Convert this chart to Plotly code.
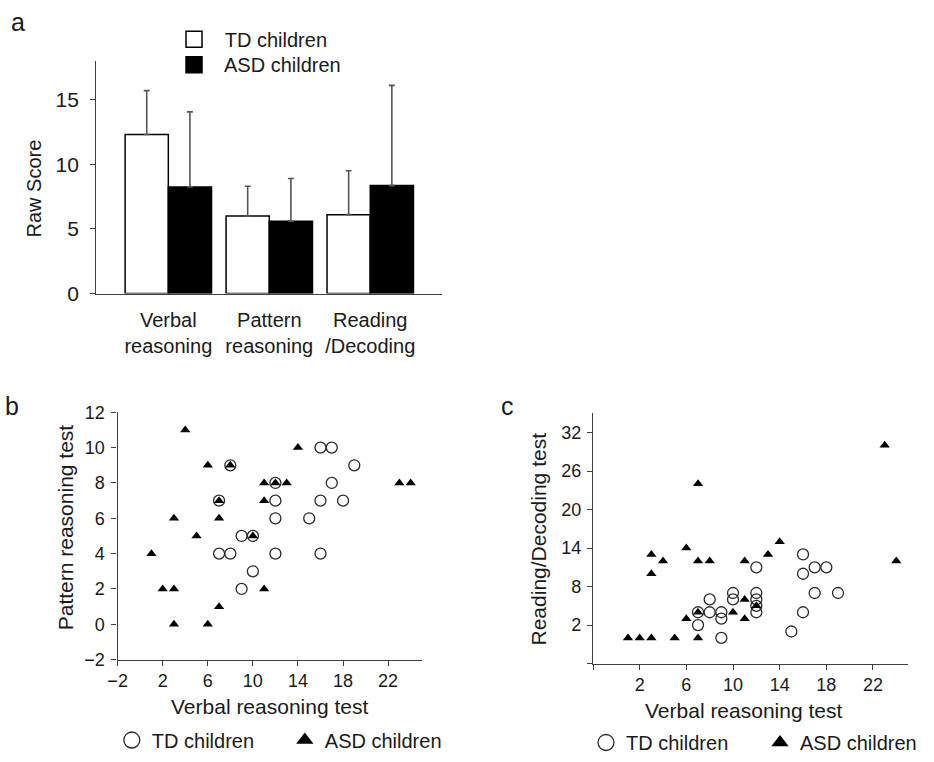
import plotly.graph_objects as go

W, H = 934, 762
FONT = "Liberation Sans, Arial, sans-serif"
INK = "#1a1a1a"
AXIS = "#404040"

# ---------------- Panel a data ----------------
categories = ["Verbal<br>reasoning", "Pattern<br>reasoning", "Reading<br>/Decoding"]
td_means = [12.3, 6.0, 6.1]
td_sd = [3.4, 2.3, 3.4]
asd_means = [8.25, 5.6, 8.35]
asd_sd = [5.8, 3.3, 7.75]
a_ticks = [0, 5, 10, 15]

# ---------------- Panel b data ----------------
b_td_x = [16, 17, 19, 8, 12, 17, 7, 12, 16, 18, 12, 15, 9, 10, 7, 8, 12, 16, 10, 9]
b_td_y = [10, 10, 9, 9, 8, 8, 7, 7, 7, 7, 6, 6, 5, 5, 4, 4, 4, 4, 3, 2]
b_asd_x = [4, 14, 6, 8, 11, 12, 13, 23, 24, 7, 11, 3, 7, 5, 10, 1, 2, 3, 11, 7, 3, 6]
b_asd_y = [11, 10, 9, 9, 8, 8, 8, 8, 8, 7, 7, 6, 6, 5, 5, 4, 2, 2, 2, 1, 0, 0]
b_xticks = [-2, 2, 6, 10, 14, 18, 22]
b_yticks = [-2, 0, 2, 4, 6, 8, 10, 12]

# ---------------- Panel c data ----------------
c_td_x = [12, 16, 16, 17, 18, 17, 19, 16, 15, 10, 10, 12, 12, 12, 12, 8, 7, 8, 9, 9, 7, 9]
c_td_y = [11, 13, 10, 11, 11, 7, 7, 4, 1, 7, 6, 7, 6, 5, 4, 6, 4, 4, 4, 3, 2, 0]
c_asd_x = [23, 7, 14, 6, 3, 13, 4, 7, 8, 11, 24, 3, 11, 12, 7, 10, 6, 11, 1, 2, 3, 5, 7]
c_asd_y = [30, 24, 15, 14, 13, 13, 12, 12, 12, 12, 12, 10, 6, 5, 4, 4, 3, 3, 0, 0, 0, 0, 0]
c_xticks = [-2, 2, 6, 10, 14, 18, 22]
c_xticktext = ["", "2", "6", "10", "14", "18", "22"]
c_yticks = [-4, 2, 8, 14, 20, 26, 32]
c_yticktext = ["", "2", "8", "14", "20", "26", "32"]


def px_x(p):
    return p / W


def px_y(p):
    return 1 - p / H


fig = go.Figure()

# ---- Panel a bars ----
fig.add_trace(go.Bar(
    x=categories, y=td_means, name="TD children", showlegend=False,
    marker=dict(color="white", line=dict(color="black", width=1.5)),
    error_y=dict(type="data", array=td_sd, arrayminus=[0] * 3, symmetric=False,
                 color="#555555", thickness=1.6, width=3),
    xaxis="x", yaxis="y",
))
fig.add_trace(go.Bar(
    x=categories, y=asd_means, name="ASD children", showlegend=False,
    marker=dict(color="black", line=dict(color="black", width=1.5)),
    error_y=dict(type="data", array=asd_sd, arrayminus=[0] * 3, symmetric=False,
                 color="#555555", thickness=1.6, width=3),
    xaxis="x", yaxis="y",
))
# legend entries for panel a (one legend per row for exact placement)
fig.add_trace(go.Scatter(
    x=[None], y=[None], mode="markers", name="  TD children",
    marker=dict(symbol="square", size=16, color="white", line=dict(color="black", width=1.5)),
    xaxis="x", yaxis="y", legend="legend",
))
fig.add_trace(go.Scatter(
    x=[None], y=[None], mode="markers", name="  ASD children",
    marker=dict(symbol="square", size=16, color="black", line=dict(color="black", width=1.5)),
    xaxis="x", yaxis="y", legend="legend4",
))

td_marker = dict(symbol="circle-open", size=11, color="#2a2a2a", line=dict(width=1.3))
asd_marker = dict(symbol="triangle-up", size=9, color="black")
td_leg_marker = dict(symbol="circle-open", size=16, color="#2a2a2a", line=dict(width=1.3))
asd_leg_marker = dict(symbol="triangle-up", size=15, color="black")

# ---- Panel b ----
fig.add_trace(go.Scatter(x=b_td_x, y=b_td_y, mode="markers", name="TD children",
                         marker=td_marker, xaxis="x2", yaxis="y2", showlegend=False))
fig.add_trace(go.Scatter(x=b_asd_x, y=b_asd_y, mode="markers", name="ASD children",
                         marker=asd_marker, xaxis="x2", yaxis="y2", showlegend=False))
fig.add_trace(go.Scatter(x=[None], y=[None], mode="markers", name="TD children",
                         marker=td_leg_marker, xaxis="x2", yaxis="y2", legend="legend2"))
fig.add_trace(go.Scatter(x=[None], y=[None], mode="markers", name="ASD children",
                         marker=asd_leg_marker, xaxis="x2", yaxis="y2", legend="legend2"))

# ---- Panel c ----
fig.add_trace(go.Scatter(x=c_td_x, y=c_td_y, mode="markers", name="TD children",
                         marker=td_marker, xaxis="x3", yaxis="y3", showlegend=False))
fig.add_trace(go.Scatter(x=c_asd_x, y=c_asd_y, mode="markers", name="ASD children",
                         marker=asd_marker, xaxis="x3", yaxis="y3", showlegend=False))
fig.add_trace(go.Scatter(x=[None], y=[None], mode="markers", name="TD children",
                         marker=td_leg_marker, xaxis="x3", yaxis="y3", legend="legend3"))
fig.add_trace(go.Scatter(x=[None], y=[None], mode="markers", name="ASD children",
                         marker=asd_leg_marker, xaxis="x3", yaxis="y3", legend="legend3"))

axis_common = dict(showline=True, linecolor=AXIS, linewidth=1.3, showgrid=False,
                   zeroline=False, automargin=False, ticks="outside", ticklen=5,
                   tickcolor=AXIS, tickwidth=1.3, tickfont=dict(family=FONT, size=18, color=INK))

leg_common = dict(xanchor="left", yanchor="top", bgcolor="rgba(0,0,0,0)",
                  itemsizing="trace", font=dict(family=FONT, size=20, color=INK))

layout = dict(
    width=W, height=H,
    margin=dict(l=0, r=0, t=0, b=0),
    paper_bgcolor="white", plot_bgcolor="white",
    font=dict(family=FONT, color=INK, size=20),
    barmode="group", bargap=0.144, bargroupgap=0,
    xaxis=dict(axis_common, domain=[px_x(99), px_x(455)], anchor="y", type="category",
               range=[-0.714, 2.714], ticks="", tickfont=dict(family=FONT, size=20, color=INK),
               ticklabelstandoff=8),
    yaxis=dict(axis_common, domain=[px_y(299), px_y(62)], anchor="x", range=[0, 18],
               tickvals=a_ticks, tickfont=dict(family=FONT, size=21, color=INK),
               ticklabelstandoff=7),
    xaxis2=dict(axis_common, domain=[px_x(121), px_x(434)], anchor="y2", range=[-2, 25],
                tickvals=b_xticks),
    yaxis2=dict(axis_common, domain=[px_y(672), px_y(420)], anchor="x2", range=[-2, 12],
                tickvals=b_yticks, ticklabelstandoff=3),
    xaxis3=dict(axis_common, domain=[px_x(610), 1.0], anchor="y3", range=[-2, 25],
                tickvals=c_xticks, ticktext=c_xticktext),
    yaxis3=dict(axis_common, domain=[px_y(676), px_y(421)], anchor="x3", range=[-4, 35],
                tickvals=c_yticks, ticktext=c_yticktext, ticklabelstandoff=2),
    legend=dict(leg_common, x=px_x(179), y=px_y(20), orientation="v"),
    legend4=dict(leg_common, x=px_x(179), y=px_y(46), orientation="v"),
    legend2=dict(leg_common, x=px_x(115), y=px_y(734), orientation="h",
                 entrywidth=128, entrywidthmode="pixels"),
    legend3=dict(leg_common, x=px_x(603), y=px_y(737), orientation="h",
                 entrywidth=129, entrywidthmode="pixels"),
)
fig.update_layout(**layout)

ann = []


def text(x, y, s, size, angle=0, xanchor="center"):
    ann.append(dict(x=px_x(x), y=px_y(y), xref="paper", yref="paper", text=s,
                    showarrow=False, textangle=angle, xanchor=xanchor, yanchor="middle",
                    font=dict(family=FONT, size=size, color=INK), borderpad=0))


text(10, 22, "a", 25, xanchor="left")
text(4, 414, "b", 25, xanchor="left")
text(514, 414, "c", 25, xanchor="left")
text(35, 192, "Raw Score", 20, angle=-90)
text(67, 537, "Pattern reasoning test", 21, angle=-90)
text(277, 720, "Verbal reasoning test", 21)
text(554, 549, "Reading/Decoding test", 21, angle=-90)
text(765, 724, "Verbal reasoning test", 21)
fig.update_layout(annotations=ann)

fig.write_html("out.html", config={"displayModeBar": False},
               post_script="document.body.style.margin='0';")
